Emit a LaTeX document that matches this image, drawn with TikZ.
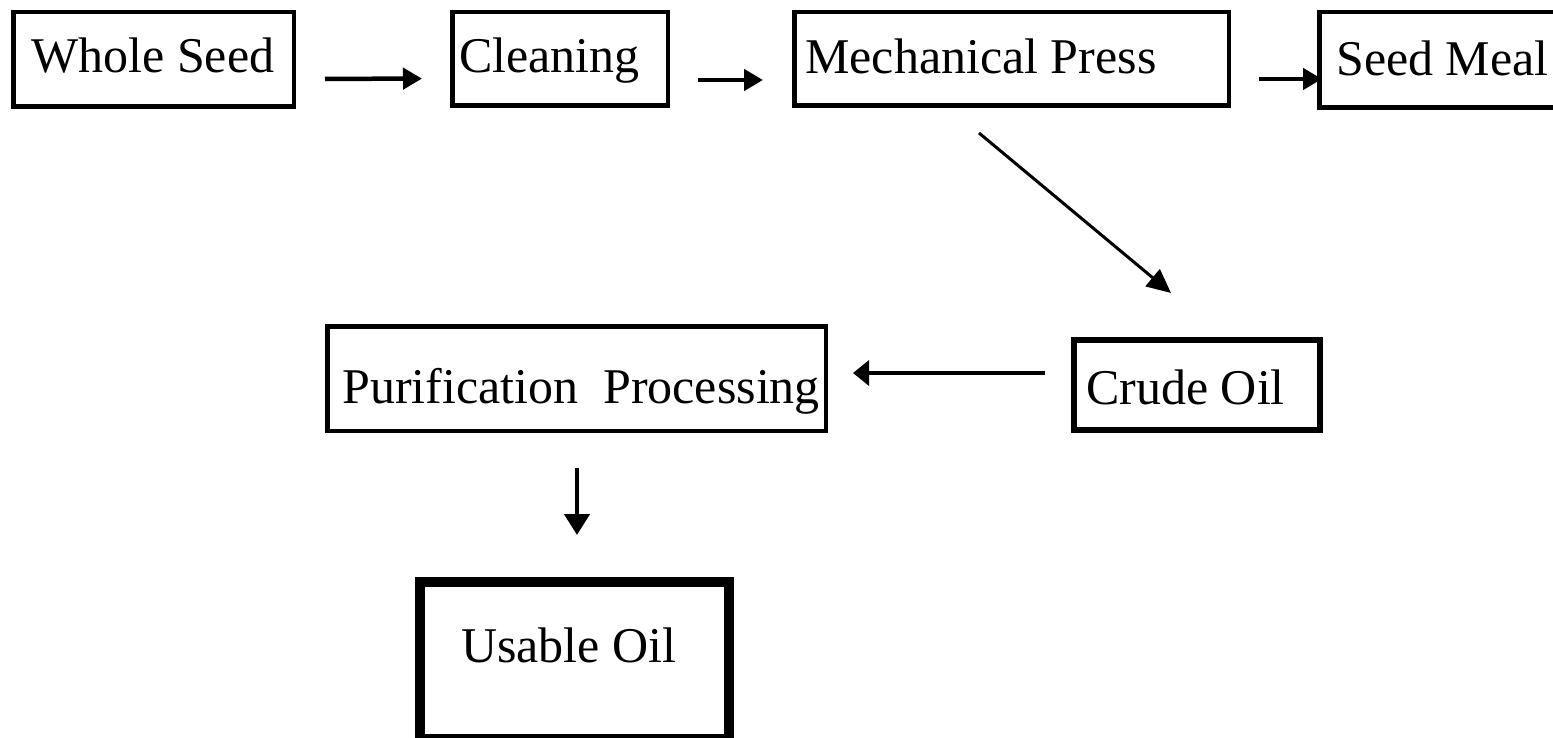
\documentclass[tikz,border=0pt]{standalone}
\usepackage{fontspec}
\setmainfont{Liberation Serif}
\usetikzlibrary{arrows.meta,calc}
\begin{document}
\begin{tikzpicture}[x=1pt,y=-1pt,
  box/.style={draw, rectangle, inner sep=0pt, line width=4.5pt},
  lbl/.style={anchor=base west, inner sep=0pt, font=\fontsize{50}{54}\selectfont},
  flow/.style={line width=4.5pt, -{Triangle[length=19pt,width=21pt]}},
]
\useasboundingbox (0,0) rectangle (1553,738);
\fill[white] (0,0) rectangle (1553,738);

% process boxes
\node[box, minimum width=280.5pt, minimum height=94.5pt] (ws) at (153.5,59.5) {};
\node[box, minimum width=215.5pt, minimum height=93.5pt] (cl) at (560,59) {};
\node[box, minimum width=434.5pt, minimum height=93.5pt] (mp) at (1011.5,59) {};
\node[box, minimum width=238.5pt, minimum height=95.5pt] (sm) at (1438.5,60) {};
\node[box, line width=6pt, minimum width=246pt, minimum height=90pt] (co) at (1197,385) {};
\node[box, minimum width=498.5pt, minimum height=104.5pt] (pp) at (576.5,378.5) {};
\node[box, line width=10pt, minimum width=309pt, minimum height=157pt] (uo) at (574.5,660.5) {};

% box labels
\node[lbl] (ws-t) at (31,73) {Whole Seed};
\node[lbl] (cl-t) at (459,73) {Cleaning};
\node[lbl] (mp-t) at (805,74) {Mechanical Press};
\node[lbl] (sm-t) at (1336,76) {Seed Meal};
\node[lbl] (co-t) at (1086,404) {Crude Oil};
\node[lbl] (pp-t) at (342,403) {Purification\ \ Processing};
\node[lbl] (uo-t) at (461,662) {Usable Oil};

% flow arrows
\draw[flow, shorten <=29pt, shorten >=28pt] ([yshift=-19.5pt]ws.east) -- ([yshift=-19.5pt]cl.west);
\draw[flow, shorten <=28pt, shorten >=29pt] ([yshift=-21pt]cl.east) -- ([yshift=-21pt]mp.west);
\draw[flow, shorten <=28pt, shorten >=-5pt] ([yshift=-20pt]mp.east) -- ([yshift=-19pt]sm.west);
\draw[line width=3pt, -{Triangle[length=24pt,width=22pt]}]
  ($(mp.south)+(-32.5,25)$) -- ($(co.north)+(-26,-44)$);
\draw[line width=3.5pt, -{Triangle[length=16pt,width=25pt]}, shorten <=26pt, shorten >=25pt]
  ([yshift=12pt]co.west) -- ([yshift=5.5pt]pp.east);
\draw[flow, -{Triangle[length=21pt,width=25pt]}, shorten <=35pt, shorten >=42pt]
  ([xshift=0.5pt]pp.south) -- ([xshift=2.5pt]uo.north);
\end{tikzpicture}
\end{document}
